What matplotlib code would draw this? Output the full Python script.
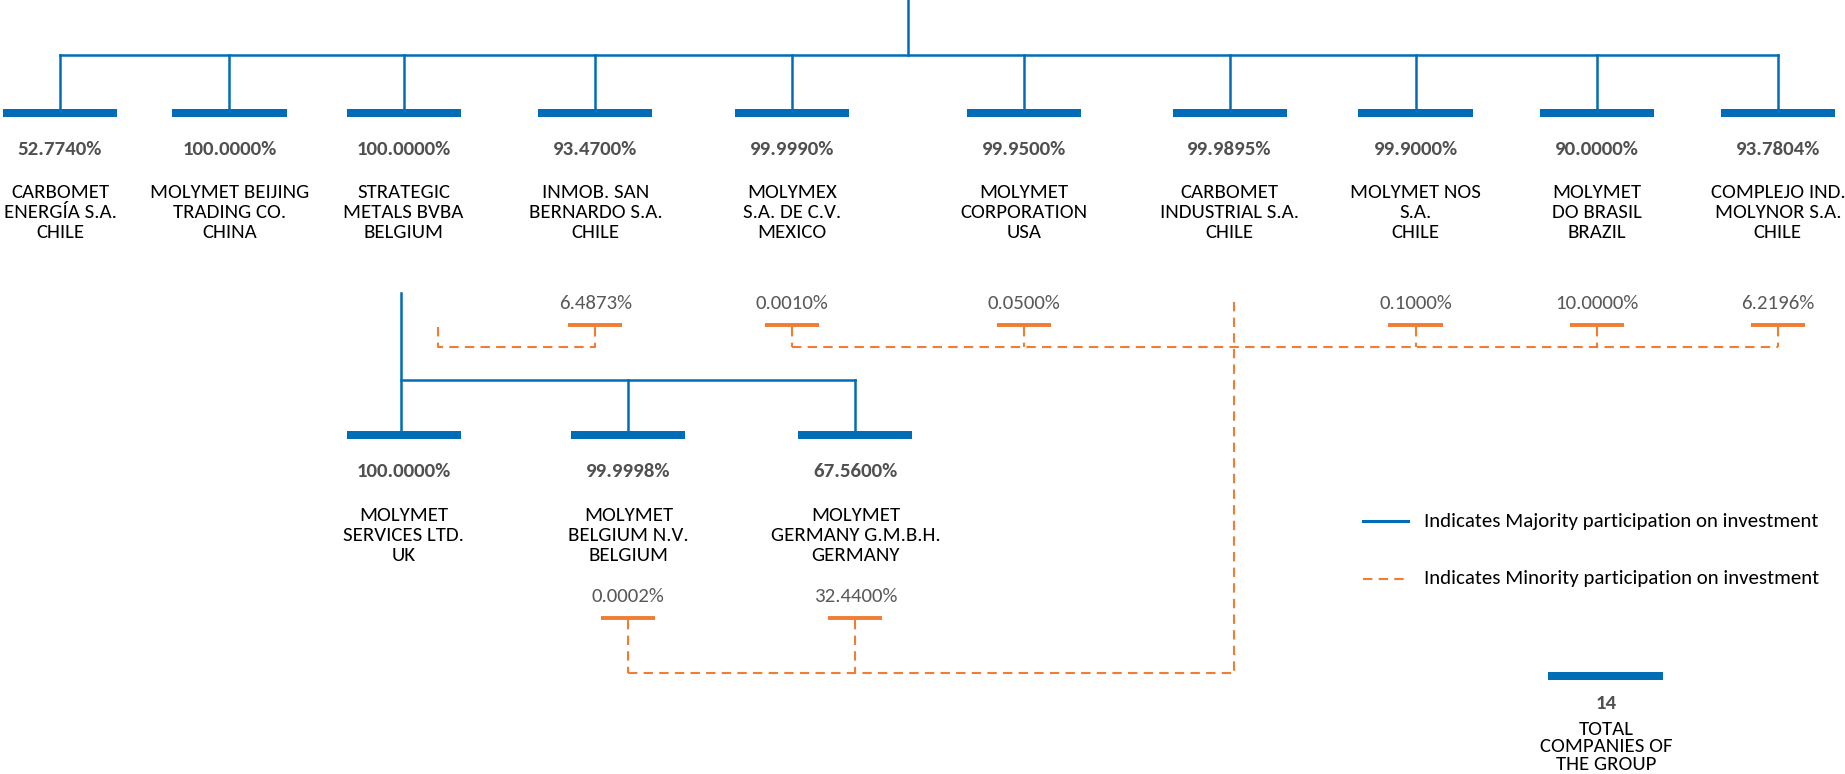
import matplotlib.pyplot as plt
from matplotlib.patches import Rectangle

BLUE = '#006db6'
ORANGE = '#f07d32'
plt.rcParams['font.family'] = ['Carlito', 'DejaVu Sans']

# first level companies
top_names = ['CARBOMET\nENERGÍA S.A.\nCHILE', 'MOLYMET BEIJING\nTRADING CO.\nCHINA',
             'STRATEGIC\nMETALS BVBA\nBELGIUM', 'INMOB. SAN\nBERNARDO S.A.\nCHILE',
             'MOLYMEX\nS.A. DE C.V.\nMEXICO', 'MOLYMET\nCORPORATION\nUSA',
             'CARBOMET\nINDUSTRIAL S.A.\nCHILE', 'MOLYMET NOS\nS.A.\nCHILE',
             'MOLYMET\nDO BRASIL\nBRAZIL', 'COMPLEJO IND.\nMOLYNOR S.A.\nCHILE']
top_pct = ['52.7740%', '100.0000%', '100.0000%', '93.4700%', '99.9990%',
           '99.9500%', '99.9895%', '99.9000%', '90.0000%', '93.7804%']
top_minor = [None, None, None, '6.4873%', '0.0010%', '0.0500%', None,
             '0.1000%', '10.0000%', '6.2196%']

# subsidiaries of Strategic Metals
bot_names = ['MOLYMET\nSERVICES LTD.\nUK', 'MOLYMET\nBELGIUM N.V.\nBELGIUM',
             'MOLYMET\nGERMANY G.M.B.H.\nGERMANY']
bot_pct = ['100.0000%', '99.9998%', '67.5600%']
bot_minor = [None, '0.0002%', '32.4400%']

total_companies = '14'

# layout (drawing units, 1568 x 658 canvas)
top_x = [51, 195, 343, 506, 673, 870, 1045, 1203, 1357, 1511]
bot_x = [343, 534, 727]
BAR_W = 97
FS = 15
LW = 1.8

fig = plt.figure(figsize=(18.45, 7.74), dpi=100)
ax = fig.add_axes([0, 0, 1, 1])
ax.set_xlim(0, 1568)
ax.set_ylim(658, 0)
ax.axis('off')


def node(x, ybar, pct, name, minor, yminor):
    ax.add_patch(Rectangle((x - BAR_W / 2, ybar - 3.5), BAR_W, 7, color=BLUE, lw=0))
    ax.text(x, ybar + 31, pct, ha='center', va='center', fontsize=FS,
            fontweight='bold', color='#505050')
    ax.text(x, ybar + 85, name, ha='center', va='center', fontsize=FS,
            color='black', linespacing=1.22)
    if minor:
        ax.text(x, yminor, minor, ha='center', va='center', fontsize=FS, color='#595959')
        ax.plot([x - 23, x + 23], [yminor + 18, yminor + 18], color=ORANGE, lw=2.8,
                solid_capstyle='butt')


def dashed(xs, ys):
    ax.plot(xs, ys, color=ORANGE, lw=1.5, dashes=(4.5, 3))


# majority tree, top level
ax.plot([772, 772], [0, 47], color=BLUE, lw=LW)
ax.plot([top_x[0], top_x[-1]], [47, 47], color=BLUE, lw=LW)
for x, p, n, m in zip(top_x, top_pct, top_names, top_minor):
    ax.plot([x, x], [47, 93], color=BLUE, lw=LW)
    node(x, 96, p, n, m, 258)

# majority tree, second level
sx = bot_x[0] - 2
ax.plot([sx, sx], [249, 367], color=BLUE, lw=LW)
ax.plot([sx, bot_x[-1]], [323, 323], color=BLUE, lw=LW)
for x in bot_x[1:]:
    ax.plot([x, x], [323, 367], color=BLUE, lw=LW)
for x, p, n, m in zip(bot_x, bot_pct, bot_names, bot_minor):
    node(x, 370, p, n, m, 507)

# minority links
dashed([372, 372, top_x[3], top_x[3]], [278, 295, 295, 278])
dashed([top_x[4], top_x[-1]], [295, 295])
for i in [4, 5, 7, 8, 9]:
    dashed([top_x[i], top_x[i]], [278, 295])
dashed([1049, 1049], [257, 572])
dashed([bot_x[1], 1049], [572, 572])
for x in bot_x[1:]:
    dashed([x, x], [527, 572])

# legend
ax.plot([1158, 1197], [443, 443], color=BLUE, lw=2.2)
ax.text(1210, 443, 'Indicates Majority participation on investment', va='center',
        fontsize=FS, color='black')
dashed([1158, 1197], [492, 492])
ax.text(1210, 492, 'Indicates Minority participation on investment', va='center',
        fontsize=FS, color='black')

# total
ax.add_patch(Rectangle((1316, 571), 97, 7, color=BLUE, lw=0))
ax.text(1365, 598, total_companies, ha='center', va='center', fontsize=FS,
        fontweight='bold', color='#505050')
ax.text(1365, 635, 'TOTAL\nCOMPANIES OF\nTHE GROUP', ha='center', va='center',
        fontsize=FS, color='black', linespacing=1.02)

fig.savefig('out.png', dpi=100)
